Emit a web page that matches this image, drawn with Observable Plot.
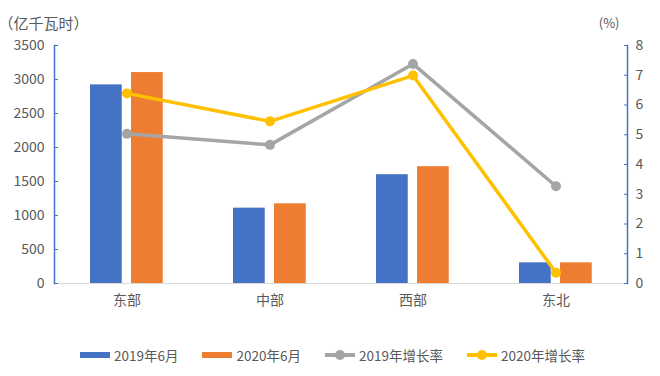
<!DOCTYPE html>
<html><head><meta charset="utf-8">
<script src="https://cdn.jsdelivr.net/npm/d3@7"></script>
<script src="https://cdn.jsdelivr.net/npm/@observablehq/plot@0.6"></script>
<style>
body{margin:0;background:#fff;font-family:"Noto Sans CJK SC","Noto Sans",sans-serif;overflow:hidden;}
#legend{display:flex;height:42px;align-items:center;font-size:13.5px;color:#595959;padding-left:80px;}
#legend .it{display:flex;align-items:center;margin-right:24px;}
#legend .sw{width:30px;height:6px;margin-right:4px;}
#legend .ln{position:relative;width:30px;height:4px;margin-right:4px;}
#legend .ln i{position:absolute;left:10px;top:-3px;width:10px;height:10px;border-radius:50%;}
</style></head>
<body><div id="chart"></div><div id="legend"></div>
<script>
const regions = ["东部","中部","西部","东北"];
const gen2019 = [2921, 1108, 1600, 304];
const gen2020 = [3102, 1172, 1718, 304];
const rate2019 = [5.03, 4.66, 7.38, 3.27];
const rate2020 = [6.39, 5.45, 6.99, 0.36];
const leftTicks = [0,500,1000,1500,2000,2500,3000,3500];
const rightTicks = [0,1,2,3,4,5,6,7,8];
const seriesNames = ["2019年6月","2020年6月","2019年增长率","2020年增长率"];
const colors = ["#4472C4","#ED7D31","#A5A5A5","#FFC000"];

const k = 3500/8;
const bars19 = regions.map((r,i)=>({r, v: gen2019[i]}));
const bars20 = regions.map((r,i)=>({r, v: gen2020[i]}));
const line19 = regions.map((r,i)=>({r, v: rate2019[i]*k}));
const line20 = regions.map((r,i)=>({r, v: rate2020[i]*k}));

const chart = Plot.plot({
  width: 660, height: 334,
  marginLeft: 54, marginRight: 33, marginTop: 45, marginBottom: 51,
  style: {fontFamily: '"Noto Sans CJK SC","Noto Sans",sans-serif', fontSize: "14px", color: "#595959", background: "#fff"},
  x: {domain: regions, padding: 0, axis: null, label: null},
  y: {domain: [0,3500], axis: null, label: null},
  marks: [
    Plot.barY(bars19, {x:"r", y:"v", fill: colors[0], insetLeft: 35, insetRight: 76.25}),
    Plot.barY(bars20, {x:"r", y:"v", fill: colors[1], insetLeft: 76, insetRight: 35.25}),
    Plot.frame({anchor:"bottom", stroke:"#D9D9D9"}),
    Plot.frame({anchor:"left", stroke:colors[0], strokeWidth:1.5}),
    Plot.frame({anchor:"right", stroke:colors[0], strokeWidth:1.5}),
    Plot.axisX({tickSize:0, tickPadding: 12, fontSize: 14, fill:"#595959", label: null}),
    Plot.axisY(leftTicks, {anchor:"left", tickSize:-4, stroke:colors[0], tickPadding: 14, tickFormat: d=>String(d), fill:"#595959", fontSize:14, label: null}),
    Plot.axisY(rightTicks.map(d=>d*k), {anchor:"right", tickSize:-4, stroke:colors[0], tickPadding: 12, tickFormat: d=>String(Math.round(d/k)), fill:"#595959", fontSize:14, label: null}),
    Plot.line(line19, {x:"r", y:"v", stroke: colors[2], strokeWidth: 3.5}),
    Plot.dot(line19, {x:"r", y:"v", fill: colors[2], r: 5}),
    Plot.line(line20, {x:"r", y:"v", stroke: colors[3], strokeWidth: 3.5}),
    Plot.dot(line20, {x:"r", y:"v", fill: colors[3], r: 5}),
    Plot.text(["（亿千瓦时）"], {frameAnchor:"top-left", dx:-56, dy:-27, textAnchor:"start", fontSize:15, fill:"#595959"}),
    Plot.text(["(%)"], {frameAnchor:"top-right", dx:-8, dy:-27, textAnchor:"end", fontSize:13, fill:"#595959"})
  ]
});
document.getElementById("chart").appendChild(chart);

const lg = document.getElementById("legend");
seriesNames.forEach((n,i)=>{
  const it = document.createElement("div"); it.className="it";
  if(i<2){ it.innerHTML = `<span class="sw" style="background:${colors[i]}"></span>${n}`; }
  else { it.innerHTML = `<span class="ln" style="background:${colors[i]}"><i style="background:${colors[i]}"></i></span>${n}`; }
  lg.appendChild(it);
});
</script></body></html>
